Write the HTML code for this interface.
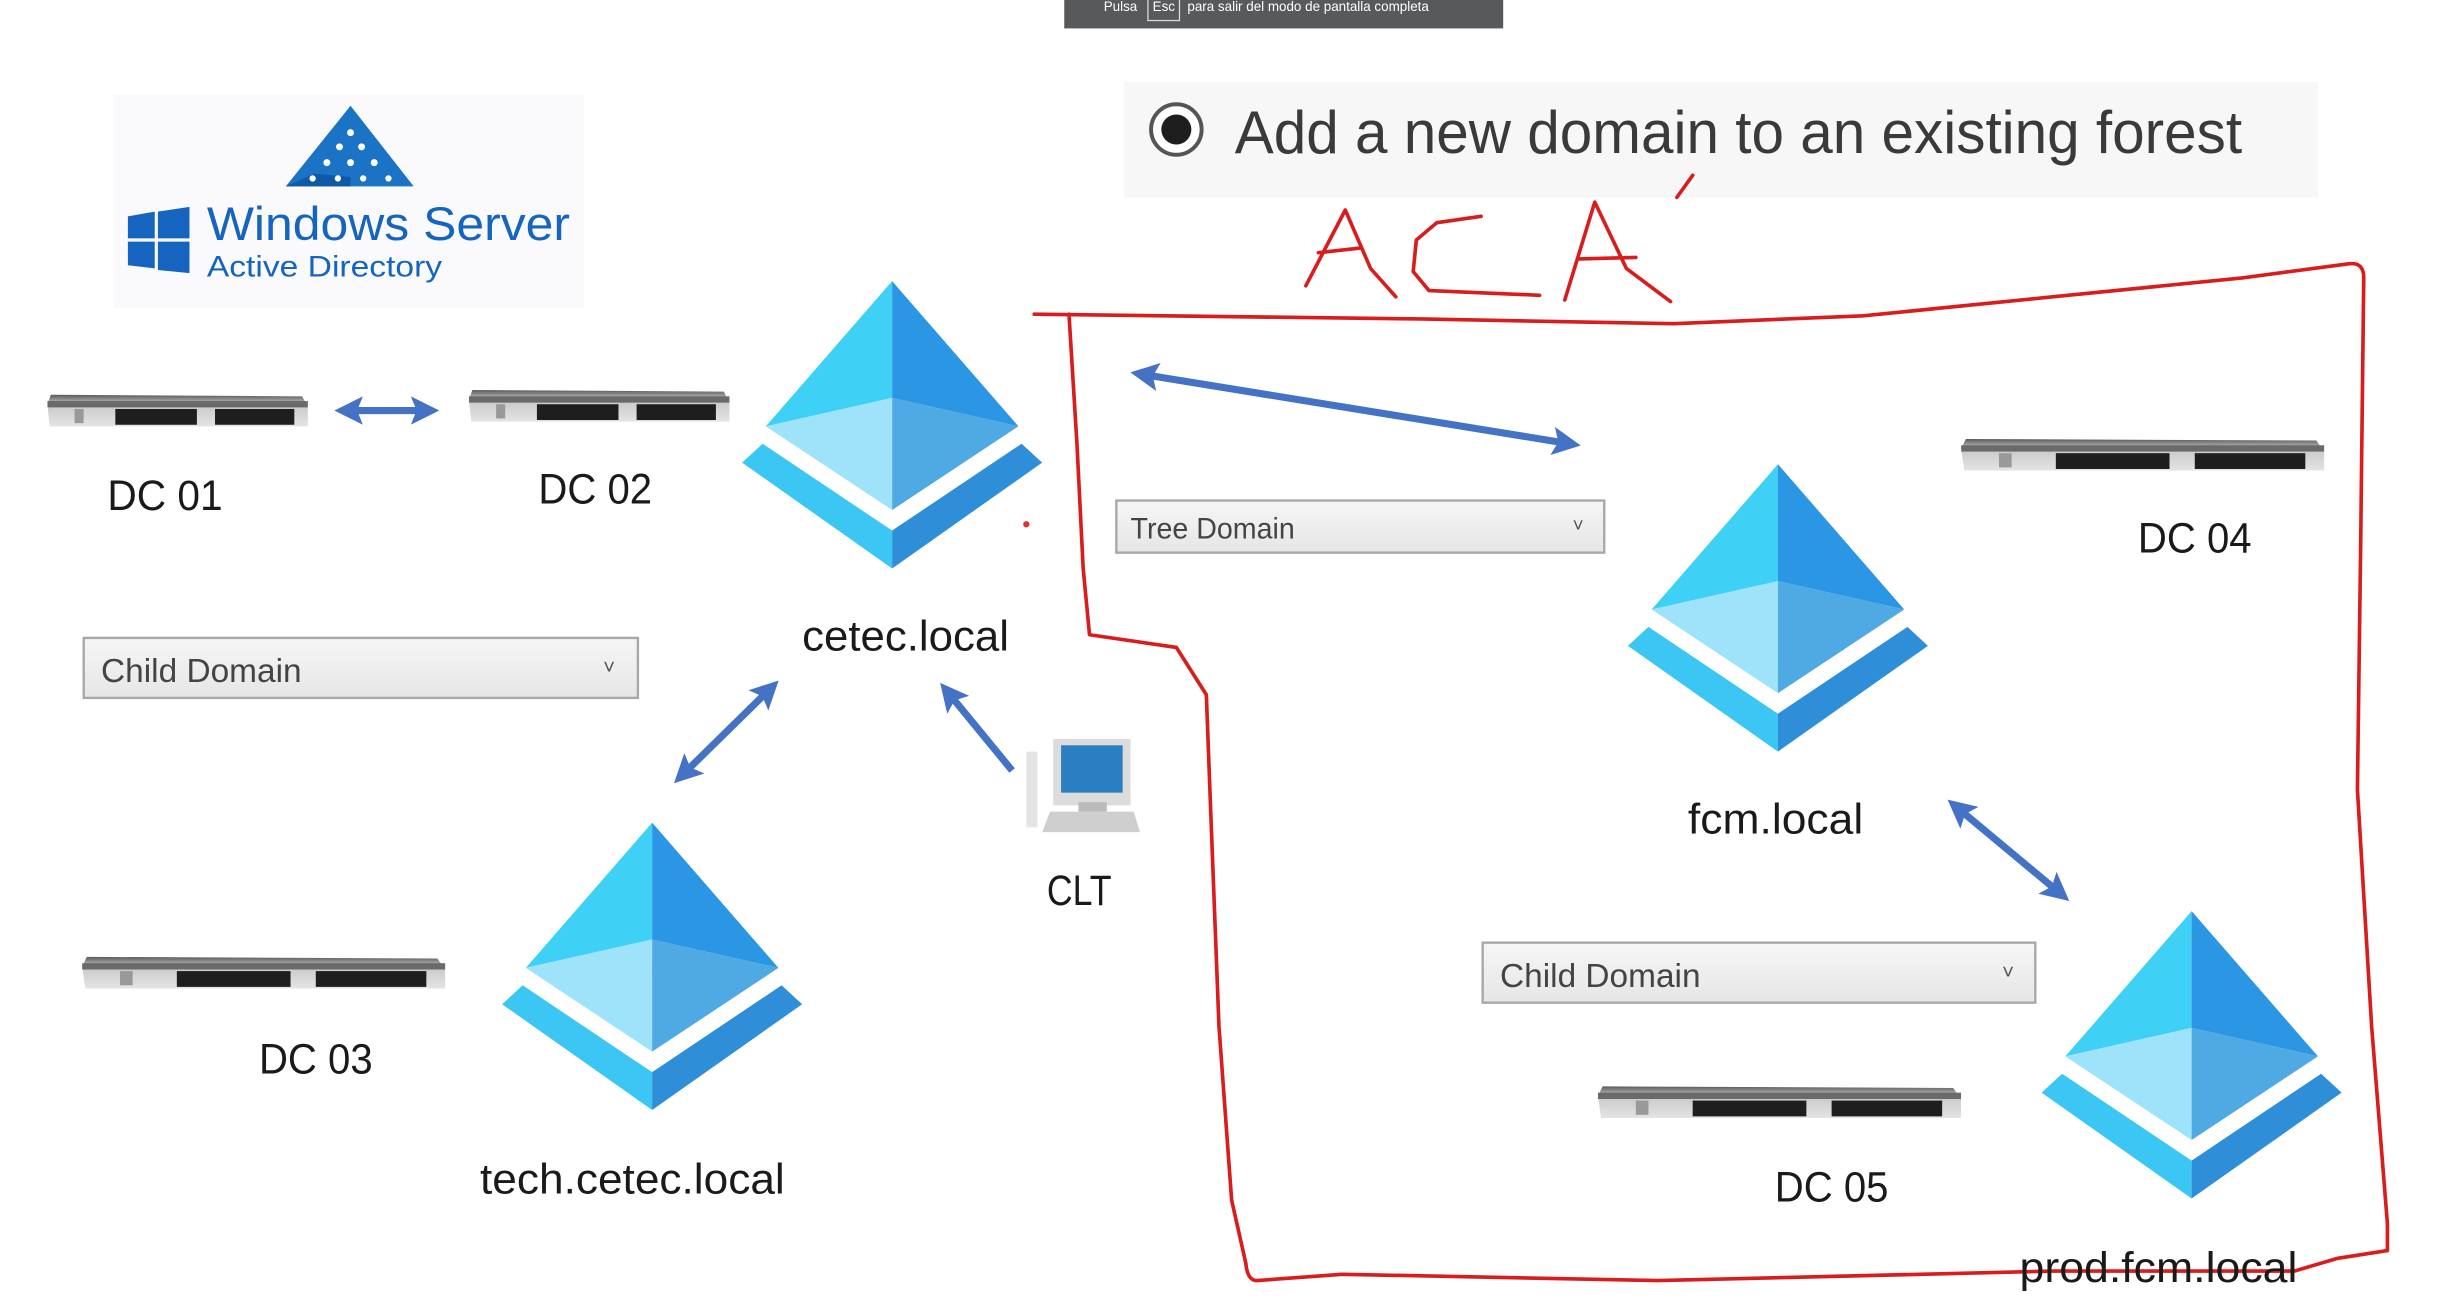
<!DOCTYPE html>
<html><head><meta charset="utf-8"><style>
html,body{margin:0;padding:0;background:#fff;}
svg{display:block;}
text{font-family:"Liberation Sans",sans-serif;}
</style></head><body>
<svg width="2440" height="1300" viewBox="0 0 1545.3 823.3" preserveAspectRatio="none" xmlns="http://www.w3.org/2000/svg">
<defs>
<linearGradient id="srv" x1="0" y1="0" x2="0" y2="1"><stop offset="0" stop-color="#5a5a5a"/><stop offset="0.3" stop-color="#c8c8c8"/><stop offset="1" stop-color="#e4e4e4"/></linearGradient>
<linearGradient id="dd" x1="0" y1="0" x2="0" y2="1"><stop offset="0" stop-color="#f6f6f6"/><stop offset="1" stop-color="#e6e6e6"/></linearGradient>
<symbol id="server" viewBox="0 0 230 24" preserveAspectRatio="none">
<path d="M3 2 L225 3 L230 10 L230 22 L2 22 L0 8 Z" fill="url(#srv)"/>
<rect x="0" y="6" width="230" height="4" fill="#6a6a6a"/>
<rect x="60" y="11" width="72" height="10" fill="#1e1e1e"/>
<rect x="148" y="11" width="70" height="10" fill="#1e1e1e"/>
<rect x="24" y="11" width="8" height="9" fill="#999"/>
</symbol>
<symbol id="pyr" viewBox="-100 0 200 185" overflow="visible">
<polygon points="0,0 -80,92 0,74" fill="#3fd0f6"/>
<polygon points="0,0 80,92 0,74" fill="#2b96e4"/>
<polygon points="-80,92 0,145 0,74" fill="#9fe3fa"/>
<polygon points="80,92 0,145 0,74" fill="#4fa9e2"/>
<polygon points="-82,103 0,158 0,182 -95,115" fill="#3cc6f3"/>
<polygon points="82,103 0,158 0,182 95,115" fill="#2e8fd8"/>
</symbol>
<marker id="ah" viewBox="0 0 10 10" refX="6" refY="5" markerWidth="4" markerHeight="4" orient="auto-start-reverse"><path d="M0 0 L10 5 L0 10 L2 5 Z" fill="#4472c4"/></marker>
</defs>

<!-- top bar -->
<rect x="674" y="0" width="278" height="18" fill="#58595b"/>
<text x="699" y="7" font-size="8.5" fill="#fff">Pulsa</text>
<rect x="727" y="-2" width="20" height="15" fill="none" stroke="#ddd" stroke-width="0.8"/>
<text x="730" y="7" font-size="8.5" fill="#fff">Esc</text>
<text x="752" y="7" font-size="8.5" fill="#fff">para salir del modo de pantalla completa</text>

<!-- logo -->
<rect x="72" y="60" width="298" height="135" fill="#fafafc"/>
<polygon points="222,67 181,118 262,118" fill="#1b73c6"/>
<polygon points="222,118 181,118 199,110 222,112" fill="#0f5aa6"/>
<g fill="#fff"><circle cx="222" cy="84" r="2.2"/><circle cx="215" cy="93" r="2.2"/><circle cx="229" cy="93" r="2.2"/><circle cx="207" cy="103" r="2.2"/><circle cx="222" cy="103" r="2.2"/><circle cx="237" cy="103" r="2.2"/><circle cx="198" cy="113" r="2"/><circle cx="214" cy="113" r="2"/><circle cx="230" cy="113" r="2"/><circle cx="246" cy="113" r="2"/></g>
<polygon points="81,137 98,134 98,151 81,151" fill="#1565c0"/>
<polygon points="100,134 120,131 120,151 100,151" fill="#1565c0"/>
<polygon points="81,153 98,153 98,170 81,168" fill="#1565c0"/>
<polygon points="100,153 120,153 120,173 100,171" fill="#1565c0"/>
<text x="131" y="152" font-size="30" fill="#1565c0" textLength="230" lengthAdjust="spacingAndGlyphs">Windows Server</text>
<text x="131" y="175" font-size="19" fill="#1565c0" textLength="149" lengthAdjust="spacingAndGlyphs">Active Directory</text>

<!-- radio panel -->
<rect x="712" y="52" width="756" height="73" fill="#f7f7f8"/>
<circle cx="745" cy="82" r="16" fill="#fff" stroke="#555" stroke-width="2.5"/>
<circle cx="745" cy="82" r="9.5" fill="#1e1e1e"/>
<text x="782" y="97" font-size="38" fill="#3a3a3a" textLength="638" lengthAdjust="spacingAndGlyphs">Add a new domain to an existing forest</text>

<!-- ACA -->
<g fill="none" stroke="#d91c1c" stroke-width="2.3" stroke-linecap="round" stroke-linejoin="round">
<path d="M827 181 L852 133 L868 170 L884 188"/>
<path d="M835 160 L862 157"/>
<path d="M938 137 L910 141 L897 152 L895 172 L905 184 L975 187"/>
<path d="M991 190 L1010 128 L1030 170 L1058 191"/>
<path d="M1000 164 L1036 163"/>
<path d="M1062 125 L1072 111"/>
<path d="M655 199 L900 202 L1060 205 L1180 200 L1300 188 L1420 176 L1488 167 Q1497 166 1497 176 L1495 350 L1493 500 L1502 650 L1512 775 L1512 792 L1480 797 L1453 805 L1300 805 L1050 811 L850 807 L796 811 Q790 811 789 800 L780 760 L772 650 L767 520 L764 440 L745 410 L690 402 L686 360 L682 280 L677 199"/>
</g>

<!-- servers -->
<use href="#server" x="30" y="248" width="165" height="24"/>
<use href="#server" x="297" y="245" width="165" height="24"/>
<use href="#server" x="52" y="604" width="230" height="24"/>
<use href="#server" x="1242" y="276" width="230" height="24"/>
<use href="#server" x="1012" y="686" width="230" height="24"/>

<!-- pyramids -->
<use href="#pyr" x="465" y="178" width="200" height="185"/>
<use href="#pyr" x="1026" y="294" width="200" height="185"/>
<use href="#pyr" x="313" y="521" width="200" height="185"/>
<use href="#pyr" x="1288" y="577" width="200" height="185"/>

<!-- arrows -->
<g stroke="#4472c4" stroke-width="4.5" fill="none">
<line x1="219" y1="260" x2="271" y2="260" marker-start="url(#ah)" marker-end="url(#ah)"/>
<line x1="723" y1="237" x2="994" y2="281" marker-start="url(#ah)" marker-end="url(#ah)"/>
<line x1="488" y1="436" x2="432" y2="491" marker-start="url(#ah)" marker-end="url(#ah)"/>
<line x1="641" y1="488" x2="600" y2="438" marker-end="url(#ah)"/>
<line x1="1239" y1="511" x2="1305" y2="566" marker-start="url(#ah)" marker-end="url(#ah)"/>
</g>
<circle cx="650" cy="332" r="2" fill="#d33"/>

<!-- computer -->
<rect x="650" y="476" width="7" height="48" fill="#e4e4e4"/>
<rect x="667" y="468" width="49" height="42" fill="#dcdcdc"/>
<rect x="672" y="472" width="39" height="30" fill="#2a7fc0"/>
<polygon points="665,514 718,514 722,527 660,527" fill="#cfcfcf"/>
<rect x="683" y="508" width="18" height="6" fill="#bbb"/>

<!-- dropdowns -->
<rect x="53" y="404" width="351" height="38" fill="url(#dd)" stroke="#a8a8a8" stroke-width="1.5"/>
<text x="64" y="432" font-size="21" fill="#444" textLength="127" lengthAdjust="spacingAndGlyphs">Child Domain</text>
<text x="382" y="427" font-size="13" fill="#555">˅</text>
<rect x="707" y="317" width="309" height="33" fill="url(#dd)" stroke="#a8a8a8" stroke-width="1.5"/>
<text x="716" y="341" font-size="19" fill="#444" textLength="104" lengthAdjust="spacingAndGlyphs">Tree Domain</text>
<text x="996" y="337" font-size="12" fill="#555">˅</text>
<rect x="939" y="597" width="350" height="38" fill="url(#dd)" stroke="#a8a8a8" stroke-width="1.5"/>
<text x="950" y="625" font-size="21" fill="#444" textLength="127" lengthAdjust="spacingAndGlyphs">Child Domain</text>
<text x="1268" y="620" font-size="13" fill="#555">˅</text>

<!-- labels -->
<g font-size="27" fill="#1a1a1a">
<text x="68" y="323" textLength="73" lengthAdjust="spacingAndGlyphs">DC 01</text>
<text x="341" y="319" textLength="72" lengthAdjust="spacingAndGlyphs">DC 02</text>
<text x="164" y="680" textLength="72" lengthAdjust="spacingAndGlyphs">DC 03</text>
<text x="1354" y="350" textLength="72" lengthAdjust="spacingAndGlyphs">DC 04</text>
<text x="1124" y="761" textLength="72" lengthAdjust="spacingAndGlyphs">DC 05</text>
<text x="508" y="412" textLength="131" lengthAdjust="spacingAndGlyphs">cetec.local</text>
<text x="1069" y="528" textLength="111" lengthAdjust="spacingAndGlyphs">fcm.local</text>
<text x="304" y="756" textLength="193" lengthAdjust="spacingAndGlyphs">tech.cetec.local</text>
<text x="1279" y="812" textLength="176" lengthAdjust="spacingAndGlyphs">prod.fcm.local</text>
<text x="663" y="573" textLength="41" lengthAdjust="spacingAndGlyphs">CLT</text>
</g>
</svg>
</body></html>
